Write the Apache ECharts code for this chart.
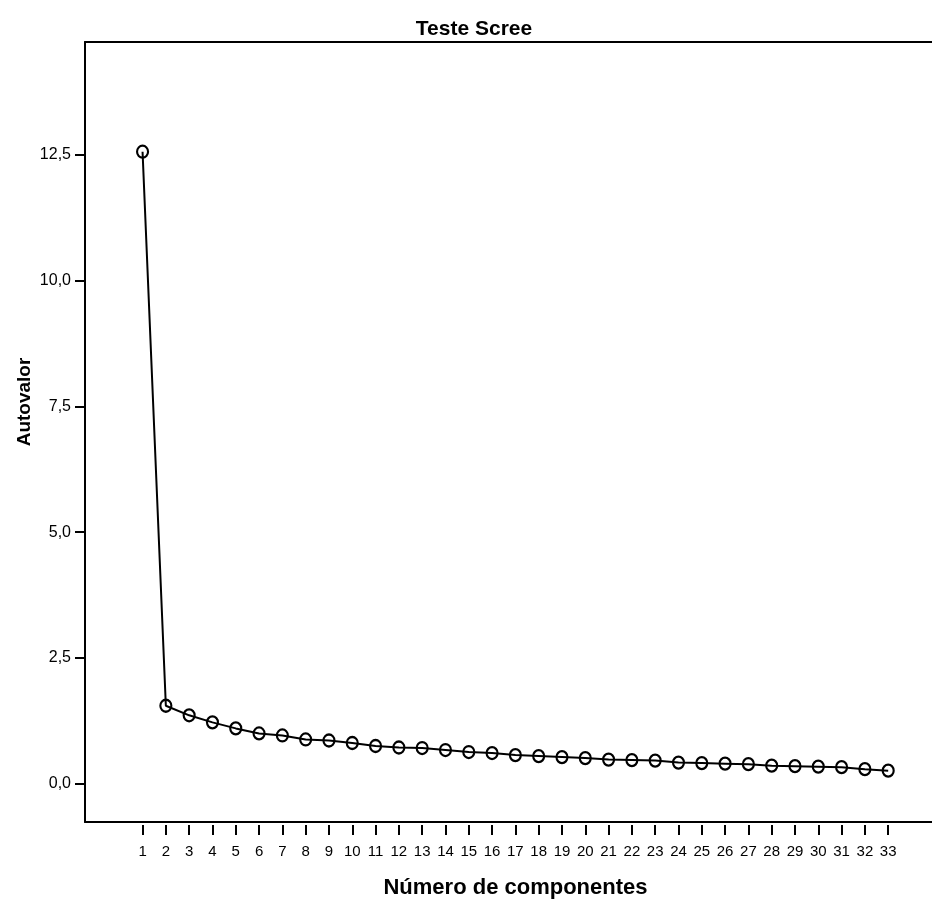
<!DOCTYPE html>
<html>
<head>
<meta charset="utf-8">
<script src="https://cdn.jsdelivr.net/npm/echarts@6/dist/echarts.min.js"></script>
<style>
html,body{margin:0;padding:0;background:#fff;}
#chart{width:932px;height:904px;}
</style>
</head>
<body>
<div id="chart"></div>
<script>
const components = [1,2,3,4,5,6,7,8,9,10,11,12,13,14,15,16,17,18,19,20,21,22,23,24,25,26,27,28,29,30,31,32,33];
const eigenvalues = [12.56,1.55,1.36,1.22,1.10,1.00,0.96,0.88,0.86,0.81,0.75,0.72,0.71,0.67,0.63,0.61,0.57,0.55,0.53,0.51,0.48,0.47,0.46,0.42,0.41,0.40,0.39,0.36,0.35,0.34,0.33,0.29,0.26];
const yTicks = [0,2.5,5,7.5,10,12.5];
const titleText = 'Teste Scree';
const xName = 'Número de componentes';
const yName = 'Autovalor';

const sans = "'Liberation Sans',Arial,sans-serif";

const chart = echarts.init(document.getElementById('chart'), null, {renderer:'canvas'});
const xMin = -1.47, xMax = 34.88;
chart.setOption({
  animation:false,
  backgroundColor:'#fff',
  title:{text:titleText,left:469,top:14,textAlign:'center',
    textStyle:{fontFamily:sans,fontWeight:'bold',fontSize:21,color:'#000'}},
  grid:{left:85,top:42,right:0,bottom:74,show:false},
  xAxis:[{
    type:'value',min:xMin,max:xMax,position:'bottom',
    splitLine:{show:false},
    axisLine:{show:true,onZero:false,lineStyle:{color:'#000',width:2}},
    axisTick:{show:false},
    axisLabel:{customValues:components,margin:22,color:'#000',fontFamily:sans,fontSize:15},
    name:xName,nameLocation:'middle',nameGap:55,
    nameTextStyle:{fontFamily:sans,fontWeight:'bold',fontSize:22,color:'#000',padding:[0,0,0,14]}
  },{
    type:'value',min:xMin,max:xMax,position:'bottom',offset:3,
    splitLine:{show:false},
    axisLine:{show:false,onZero:false},
    axisTick:{show:true,customValues:components,length:10,lineStyle:{color:'#000',width:2}},
    axisLabel:{show:false}
  },{
    type:'value',min:xMin,max:xMax,position:'top',
    splitLine:{show:false},
    axisLine:{show:true,onZero:false,lineStyle:{color:'#000',width:2}},
    axisTick:{show:false},
    axisLabel:{show:false}
  }],
  yAxis:{
    type:'value',min:-0.76,max:14.74,
    splitLine:{show:false},
    axisLine:{show:true,onZero:false,lineStyle:{color:'#000',width:2}},
    axisTick:{show:true,customValues:yTicks,length:10,lineStyle:{color:'#000',width:2}},
    axisLabel:{customValues:yTicks,margin:14,color:'#000',fontFamily:sans,fontSize:16,
      formatter:v=>v.toFixed(1).replace('.',',')}
  },
  graphic:[{
    type:'text',x:25,y:402,rotation:Math.PI/2,
    style:{text:yName,fontFamily:sans,fontWeight:'bold',fontSize:19,fill:'#000',align:'center',verticalAlign:'middle'}
  }],
  series:[{
    type:'line',
    data:components.map((c,i)=>[c,eigenvalues[i]]),
    symbol:'circle',symbolSize:[11,12],
    lineStyle:{color:'#000',width:2},
    itemStyle:{color:'rgba(0,0,0,0)',borderColor:'#000',borderWidth:2.2},
    z:3
  }]
});
</script>
</body>
</html>
